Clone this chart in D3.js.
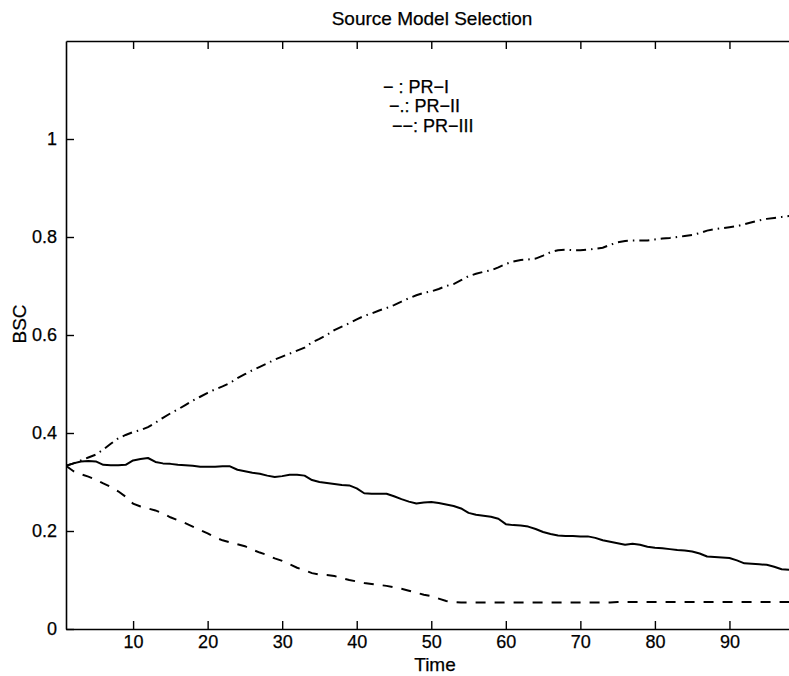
<!DOCTYPE html>
<html>
<head>
<meta charset="utf-8">
<script src="https://cdn.jsdelivr.net/npm/d3@7"></script>
<style>
  html, body { margin: 0; padding: 0; background: #fff; }
  svg { display: block; }
  text { font-family: "Liberation Sans", Arial, Helvetica, sans-serif; fill: #000; stroke: #000; stroke-width: 0.25px; }
</style>
</head>
<body>
<svg id="chart" width="789" height="676"></svg>
<script>
// Belief scores per time step for the three source models
const time = d3.range(1, 101);

const prI = [
  0.333, 0.338, 0.342, 0.343, 0.342, 0.335, 0.334, 0.334, 0.335, 0.344,
  0.347, 0.349, 0.341, 0.338, 0.337, 0.335, 0.334, 0.333, 0.331, 0.331,
  0.331, 0.332, 0.332, 0.325, 0.322, 0.319, 0.317, 0.313, 0.310, 0.312,
  0.315, 0.315, 0.313, 0.304, 0.300, 0.298, 0.296, 0.294, 0.293, 0.287,
  0.277, 0.276, 0.276, 0.276, 0.271, 0.265, 0.260, 0.256, 0.258, 0.259,
  0.257, 0.254, 0.251, 0.246, 0.237, 0.233, 0.231, 0.229, 0.225, 0.214,
  0.212, 0.211, 0.209, 0.204, 0.198, 0.194, 0.191, 0.190, 0.190, 0.189,
  0.189, 0.186, 0.181, 0.178, 0.175, 0.172, 0.174, 0.172, 0.168, 0.166,
  0.165, 0.163, 0.161, 0.160, 0.158, 0.154, 0.148, 0.147, 0.146, 0.145,
  0.140, 0.134, 0.133, 0.132, 0.131, 0.127, 0.122, 0.121, 0.120, 0.119
];

const prII = [
  0.333, 0.338, 0.344, 0.350, 0.356, 0.366, 0.378, 0.389, 0.396, 0.402,
  0.406, 0.412, 0.421, 0.431, 0.440, 0.448, 0.457, 0.466, 0.474, 0.482,
  0.489, 0.495, 0.502, 0.512, 0.520, 0.528, 0.535, 0.542, 0.550, 0.556,
  0.562, 0.568, 0.574, 0.585, 0.592, 0.600, 0.610, 0.617, 0.624, 0.632,
  0.639, 0.644, 0.650, 0.655, 0.661, 0.668, 0.675, 0.681, 0.686, 0.689,
  0.694, 0.700, 0.704, 0.712, 0.720, 0.725, 0.729, 0.732, 0.738, 0.745,
  0.750, 0.753, 0.754, 0.756, 0.762, 0.769, 0.773, 0.774, 0.773, 0.773,
  0.774, 0.776, 0.778, 0.784, 0.789, 0.792, 0.793, 0.793, 0.793, 0.795,
  0.797, 0.798, 0.800, 0.802, 0.804, 0.808, 0.813, 0.816, 0.818, 0.820,
  0.822, 0.826, 0.830, 0.834, 0.837, 0.839, 0.841, 0.843, 0.845, 0.847
];

const prIII = [
  0.333, 0.322, 0.316, 0.311, 0.305, 0.297, 0.290, 0.281, 0.270, 0.256,
  0.250, 0.246, 0.242, 0.236, 0.228, 0.222, 0.216, 0.209, 0.202, 0.195,
  0.187, 0.181, 0.177, 0.173, 0.169, 0.162, 0.156, 0.151, 0.144, 0.139,
  0.132, 0.125, 0.120, 0.114, 0.111, 0.110, 0.108, 0.104, 0.100, 0.097,
  0.094, 0.092, 0.090, 0.088, 0.085, 0.082, 0.078, 0.074, 0.070, 0.067,
  0.062, 0.057, 0.055, 0.054, 0.054, 0.054, 0.054, 0.054, 0.054, 0.054,
  0.054, 0.054, 0.054, 0.054, 0.054, 0.054, 0.054, 0.054, 0.054, 0.054,
  0.054, 0.054, 0.054, 0.054, 0.055, 0.055, 0.055, 0.055, 0.055, 0.055,
  0.055, 0.055, 0.055, 0.055, 0.055, 0.055, 0.055, 0.055, 0.055, 0.055,
  0.055, 0.055, 0.055, 0.055, 0.055, 0.055, 0.055, 0.055, 0.055, 0.055
];

const xTicks = [10, 20, 30, 40, 50, 60, 70, 80, 90];
const yTicks = [0, 0.2, 0.4, 0.6, 0.8, 1];
const legendLabels = ["\u2212 : PR\u2212I", "\u2212.: PR\u2212II", "\u2212\u2212: PR\u2212III"];

const svg = d3.select("#chart");
const frame = { left: 66, right: 804, top: 41, bottom: 629 };

const x = d3.scaleLinear().domain([1, 100]).range([frame.left, frame.right]);
const y = d3.scaleLinear().domain([0, 1.2]).range([frame.bottom, frame.top]);

svg.append("defs").append("clipPath").attr("id", "plotClip")
  .append("rect").attr("x", frame.left).attr("y", frame.top)
  .attr("width", frame.right - frame.left).attr("height", frame.bottom - frame.top);

// Axes with inward ticks, mirrored on the top and right edges
const tickLen = 8;
const axisFont = "18px";

const xAxisBottom = d3.axisBottom(x).tickValues(xTicks).tickSizeInner(-tickLen).tickSizeOuter(0).tickPadding(6);
const xAxisTop = d3.axisTop(x).tickValues(xTicks).tickSizeInner(-tickLen).tickSizeOuter(0).tickFormat("");
const yAxisLeft = d3.axisLeft(y).tickValues(yTicks).tickSizeInner(-tickLen).tickSizeOuter(0).tickPadding(9)
  .tickFormat(d => d3.format("~g")(d));
const yAxisRight = d3.axisRight(y).tickValues(yTicks).tickSizeInner(-tickLen).tickSizeOuter(0).tickFormat("");

function styleAxis(g) {
  g.selectAll(".domain").attr("stroke", "#000").attr("stroke-width", 1.6);
  g.selectAll(".tick line").attr("stroke", "#000").attr("stroke-width", 1.4);
  g.selectAll(".tick text").style("font-size", axisFont).attr("fill", "#000");
  g.attr("font-family", null);
}

svg.append("g").attr("transform", `translate(0,${frame.bottom})`).call(xAxisBottom).call(styleAxis);
svg.append("g").attr("transform", `translate(0,${frame.top})`).call(xAxisTop).call(styleAxis);
svg.append("g").attr("transform", `translate(${frame.left},0)`).call(yAxisLeft).call(styleAxis);
svg.append("g").attr("transform", `translate(${frame.right},0)`).call(yAxisRight).call(styleAxis);

// Series lines
const line = d3.line().x((d, i) => x(time[i])).y(d => y(d));
const plot = svg.append("g").attr("clip-path", "url(#plotClip)");

plot.append("path").datum(prI).attr("d", line)
  .attr("fill", "none").attr("stroke", "#000").attr("stroke-width", 2)
  .attr("stroke-linejoin", "round");

plot.append("path").datum(prII).attr("d", line)
  .attr("fill", "none").attr("stroke", "#000").attr("stroke-width", 2)
  .attr("stroke-dasharray", "10,5,1.5,5");

plot.append("path").datum(prIII).attr("d", line)
  .attr("fill", "none").attr("stroke", "#000").attr("stroke-width", 2)
  .attr("stroke-dasharray", "10,9");

// Titles
svg.append("text").attr("x", 432).attr("y", 25)
  .attr("text-anchor", "middle").style("font-size", "19px")
  .text("Source Model Selection");

svg.append("text").attr("x", 435).attr("y", 671)
  .attr("text-anchor", "middle").style("font-size", "19px")
  .text("Time");

svg.append("text").attr("transform", "translate(25.5,324) rotate(-90)")
  .attr("text-anchor", "middle").style("font-size", "19px")
  .text("BSC");

// Legend annotation
const legendPos = [[383, 93], [389, 112], [392, 132]];
svg.append("g").selectAll("text").data(legendLabels).join("text")
  .attr("x", (d, i) => legendPos[i][0]).attr("y", (d, i) => legendPos[i][1])
  .style("font-size", "18px")
  .text(d => d);
</script>
</body>
</html>
